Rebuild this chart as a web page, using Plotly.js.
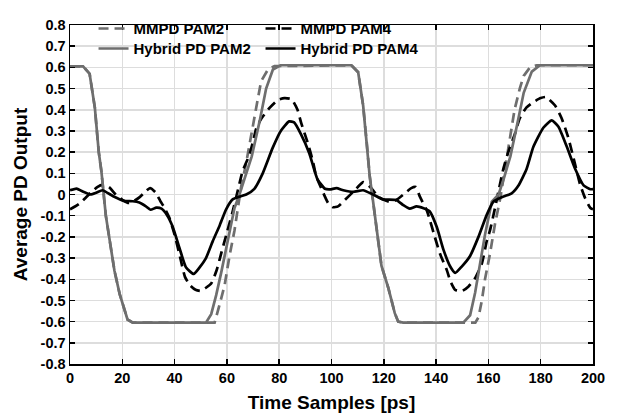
<!DOCTYPE html>
<html>
<head>
<meta charset="utf-8">
<script src="https://cdn.plot.ly/plotly-3.0.1.min.js"></script>
<style>html,body{margin:0;padding:0;background:#fff;}#chart{width:617px;height:418px;}</style>
</head>
<body>
<div id="chart"></div>
<script>
// ---- data ----
const mmpdPam2X = [0,5,7.5,9.5,11,12,13.7,15.4,17,19,22,24,55.3,57.2,59.1,61,62.9,64.2,65.5,67.4,69.9,71.8,73.1,75.7,78.2,107.6,110.2,112.1,113.4,114.6,115.9,117.2,119.1,121.7,124.2,125.5,127.4,155,156.2,157.5,158.7,160.6,162.5,164.5,166.4,168,170,172,173.5,175.9,178.5,200];
const mmpdPam2Y = [0.605,0.605,0.57,0.41,0.2,0.11,-0.1,-0.24,-0.36,-0.47,-0.59,-0.605,-0.605,-0.52,-0.43,-0.29,-0.17,-0.064,0.04,0.15,0.33,0.45,0.535,0.59,0.606,0.61,0.577,0.42,0.255,0.088,-0.033,-0.155,-0.336,-0.44,-0.56,-0.6,-0.605,-0.605,-0.58,-0.5,-0.4,-0.28,-0.14,-0.02,0.12,0.25,0.4,0.5,0.56,0.6,0.61,0.61];

const mmpdPam4X = [0,3.4,6,7.9,10.4,12.5,14.9,17.5,20,22.5,24.5,26.4,28.5,30.6,32.7,34.5,36,38,40,42,44,46,48,50,52,54,56,58,60,62,64,66,68.7,70,71.2,73,76.4,79.6,82,84.7,87,88.4,91,92.9,94.1,96.7,98.7,100.5,102.5,105.1,108.9,112.1,114,115.9,117.8,120,122.5,124.8,128,130.5,132.2,133.8,135,136.3,137.6,139.5,141.5,144.1,145.5,147.3,150,152.4,154.9,157.5,159.4,160.6,162.5,163.8,165.7,167.6,170.1,172,174.5,177.2,180,182,185.5,188,190.5,193,195,197,199,200];
const mmpdPam4Y = [-0.07,-0.045,-0.015,0.008,0.035,0.045,0.035,0,-0.025,-0.04,-0.03,-0.015,0.01,0.03,0.01,-0.03,-0.06,-0.11,-0.19,-0.29,-0.39,-0.43,-0.45,-0.455,-0.44,-0.42,-0.36,-0.27,-0.18,-0.09,0.01,0.11,0.19,0.25,0.31,0.355,0.41,0.447,0.455,0.45,0.4,0.338,0.24,0.156,0.088,0.012,-0.04,-0.06,-0.056,-0.026,0.02,0.058,0.045,0.02,-0.01,-0.025,-0.035,-0.026,0.005,0.03,0.035,-0.01,-0.04,-0.07,-0.12,-0.2,-0.28,-0.357,-0.41,-0.45,-0.455,-0.434,-0.395,-0.326,-0.218,-0.17,-0.065,0.012,0.12,0.2,0.285,0.36,0.41,0.436,0.455,0.46,0.42,0.36,0.27,0.15,0.05,-0.018,-0.064,-0.07];

const hybridPam2X = [0,5,7.5,9.5,11,12,13.7,15.4,17,19,22,24,52,54,55.9,57.8,60.4,62.9,64.8,67,69.5,72.5,75,77.6,80.5,107.6,110.2,112.1,113.4,114.6,115.9,117.2,119.1,121.7,124.2,125.5,127.4,150.4,153,154.9,156.8,158.7,161.3,163.9,166,168.4,171,173.5,176.6,179.7,200];
const hybridPam2Y = [0.605,0.605,0.57,0.41,0.2,0.11,-0.1,-0.24,-0.36,-0.47,-0.59,-0.605,-0.605,-0.565,-0.475,-0.37,-0.215,-0.064,0,0.08,0.18,0.345,0.5,0.59,0.61,0.61,0.577,0.42,0.255,0.088,-0.033,-0.155,-0.336,-0.44,-0.56,-0.6,-0.605,-0.605,-0.57,-0.465,-0.326,-0.19,-0.034,0,0.08,0.18,0.33,0.48,0.58,0.61,0.61];

const hybridPam4X = [0,2.5,4.7,7.9,10,12.4,16.5,20.6,24,26.5,28.9,30.8,33,35,37,39.2,41.8,44.4,47.3,49.5,52,54.6,57.2,59.7,62.3,64.8,67.4,70.5,73.7,77.5,80.6,83.8,85.7,88.3,91.5,94.6,97.5,99.4,101.9,104.5,108.3,112.1,115.9,119.7,124.8,127.4,129.9,132.5,135.2,137.6,140.3,142.8,145.4,147.3,149.8,153,156.2,159.4,161.9,165.7,168.9,171.5,174.6,177.2,181,184.2,186.8,190,193.2,196.4,199,200];
const hybridPam4Y = [0.02,0.028,0.015,0,0.008,0.02,-0.008,-0.03,-0.032,-0.038,-0.055,-0.072,-0.062,-0.067,-0.095,-0.15,-0.25,-0.345,-0.375,-0.345,-0.3,-0.22,-0.147,-0.07,-0.022,-0.01,0,0.027,0.1,0.22,0.3,0.345,0.34,0.285,0.195,0.073,0.027,0.024,0.03,0.02,0.012,0.02,0,-0.023,-0.026,-0.05,-0.067,-0.056,-0.065,-0.08,-0.155,-0.26,-0.34,-0.37,-0.34,-0.29,-0.2,-0.095,-0.034,-0.01,0.005,0.042,0.12,0.225,0.315,0.35,0.32,0.225,0.12,0.043,0.025,0.025];

const seriesNames = ['MMPD PAM2','MMPD PAM4','Hybrid PD PAM2','Hybrid PD PAM4'];
const xTickVals = [0,20,40,60,80,100,120,140,160,180,200];
const yTickVals = [-0.8,-0.7,-0.6,-0.5,-0.4,-0.3,-0.2,-0.1,0,0.1,0.2,0.3,0.4,0.5,0.6,0.7,0.8];
const yTickText = ['-0.8','-0.7','-0.6','-0.5','-0.4','-0.3','-0.2','-0.1','0','0.1','0.2','0.3','0.4','0.5','0.6','0.7','0.8'];

// ---- styling ----
const GRAY = '#6e6e6e';
const FONT = 'Liberation Sans, Arial, Helvetica, sans-serif';
const DASH = '10px,6px';

const traces = [
  {x: mmpdPam2X, y: mmpdPam2Y, name: seriesNames[0], mode: 'lines', legend: 'legend',
   line: {color: GRAY, width: 2.7, dash: DASH}},
  {x: mmpdPam4X, y: mmpdPam4Y, name: seriesNames[1], mode: 'lines', legend: 'legend',
   line: {color: '#000', width: 2.7, dash: DASH, shape: 'spline', smoothing: 0.5}},
  {x: hybridPam2X, y: hybridPam2Y, name: seriesNames[2], mode: 'lines', legend: 'legend2',
   line: {color: GRAY, width: 2.7}},
  {x: hybridPam4X, y: hybridPam4Y, name: seriesNames[3], mode: 'lines', legend: 'legend2',
   line: {color: '#000', width: 2.7, shape: 'spline', smoothing: 0.5}}
];

const axisCommon = {
  showline: true, linecolor: '#000', linewidth: 1.5, mirror: 'ticks',
  ticks: 'inside', ticklen: 5, tickwidth: 1.5, tickcolor: '#000',
  showgrid: true, gridcolor: '#dddddd', gridwidth: 1.5, zeroline: false,
  tickfont: {family: FONT, size: 14.5, color: '#000', weight: 'bold'}
};

const legendCommon = {
  orientation: 'h', xanchor: 'left', yanchor: 'middle', x: 0.045,
  bgcolor: 'rgba(0,0,0,0)', borderwidth: 0, entrywidth: 122, entrywidthmode: 'pixels',
  font: {family: FONT, size: 15, color: '#000', weight: 'bold'}, traceorder: 'normal'
};

const layout = {
  width: 617, height: 418,
  margin: {l: 70, r: 24, t: 14, b: 54},
  paper_bgcolor: '#fff', plot_bgcolor: '#fff',
  showlegend: true,
  xaxis: Object.assign({}, axisCommon, {
    range: [0, 200], tickvals: xTickVals,
    title: {text: 'Time Samples [ps]', font: {family: FONT, size: 19, color: '#000', weight: 'bold'}, standoff: 11}
  }),
  yaxis: Object.assign({}, axisCommon, {
    range: [-0.8, 0.8], tickvals: yTickVals, ticktext: yTickText,
    title: {text: 'Average PD Output', font: {family: FONT, size: 19, color: '#000', weight: 'bold'}, standoff: 8}
  }),
  legend: Object.assign({}, legendCommon, {y: 0.989}),
  legend2: Object.assign({}, legendCommon, {y: 0.93})
};

Plotly.newPlot('chart', traces, layout, {displayModeBar: false, staticPlot: true});
</script>
</body>
</html>
